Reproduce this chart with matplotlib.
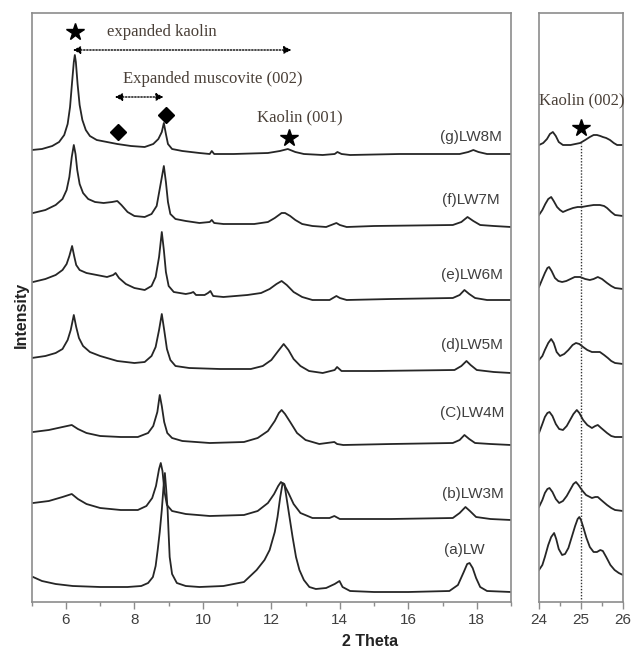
import matplotlib
matplotlib.use("Agg")
import matplotlib.pyplot as plt
from matplotlib.ticker import MultipleLocator

# ---------------- data (arbitrary intensity units incl. stacking offset) ----
sample_labels = ["(a)LW", "(b)LW3M", "(C)LW4M", "(d)LW5M", "(e)LW6M", "(f)LW7M", "(g)LW8M"]

# left panel, 2-theta 5..19
a_x = [5.04, 5.3, 5.7, 6.2, 7.0, 7.8, 8.2, 8.4, 8.54, 8.62, 8.68, 8.74, 8.80, 8.85, 8.89, 8.93, 8.97, 9.0,
       9.03, 9.1, 9.24, 9.5, 9.9, 10.6, 11.2, 11.57, 11.8, 11.95, 12.1, 12.18, 12.26, 12.33, 12.38, 12.44,
       12.53, 12.62, 12.72, 12.82, 12.95, 13.11, 13.3, 13.6, 13.85, 13.99, 14.08, 14.3, 15.0, 16.0, 17.2,
       17.45, 17.62, 17.72, 17.79, 17.88, 17.98, 18.1, 18.3, 19.0]
a_y = [25, 21, 18, 16, 15, 15, 16, 19, 25, 36, 52, 70, 92, 115, 129, 112, 92, 68,
       45, 28, 19, 16, 15, 16, 20, 32, 42, 52, 70, 85, 105, 119, 118, 105,
       85, 65, 45, 32, 22, 15, 13, 14, 18, 21, 15, 11, 10, 10, 11,
       17, 30, 38, 39, 34, 24, 15, 11, 10]

b_x = [5.04, 5.5, 5.9, 6.17, 6.35, 6.6, 7.0, 7.6, 8.1, 8.35, 8.52, 8.63, 8.72, 8.77, 8.82, 8.88, 8.95,
       9.1, 9.5, 10.2, 11.2, 11.6, 11.9, 12.08, 12.2, 12.28, 12.38, 12.5, 12.65, 12.85, 13.2, 13.7,
       13.84, 14.0, 15.5, 17.3, 17.5, 17.67, 17.8, 17.98, 18.4, 19.0]
b_y = [99, 101, 105, 108, 103, 98, 94, 92, 92, 96, 104, 116, 133, 139, 131, 110, 97,
       91, 88, 86, 87, 91, 99, 108, 116, 120, 117, 109, 98, 89, 84, 84,
       86, 83, 83, 84, 89, 95, 91, 85, 83, 82]

c_x = [5.04, 5.5, 5.9, 6.17, 6.35, 6.6, 7.0, 7.6, 8.1, 8.4, 8.55, 8.67, 8.74, 8.80, 8.87, 8.96, 9.1,
       9.4, 10.2, 11.2, 11.6, 11.9, 12.1, 12.22, 12.30, 12.4, 12.55, 12.75, 13.0, 13.4, 13.84, 13.92,
       14.1, 15.5, 17.3, 17.5, 17.64, 17.78, 17.95, 18.4, 19.0]
c_y = [170, 172, 175, 177, 173, 169, 166, 165, 165, 169, 176, 190, 207, 196, 180, 169, 164,
       161, 159, 160, 164, 171, 181, 189, 192, 188, 180, 169, 162, 158, 160, 158,
       157, 158, 159, 162, 167, 163, 159, 158, 157]

d_x = [5.0, 5.4, 5.7, 5.9, 6.05, 6.14, 6.23, 6.3, 6.38, 6.5, 6.7, 7.0, 7.5, 8.0, 8.3, 8.5, 8.62, 8.72,
       8.80, 8.87, 8.95, 9.05, 9.2, 9.6, 10.5, 11.4, 11.75, 12.0, 12.2, 12.36, 12.5, 12.65, 12.85, 13.1,
       13.5, 13.85, 13.92, 14.05, 15.0, 17.35, 17.55, 17.7, 17.82, 18.0, 18.5, 19.0]
d_y = [244, 246, 249, 253, 262, 272, 287, 275, 264, 256, 250, 246, 241, 239, 240, 246, 255, 272,
       288, 272, 253, 242, 236, 234, 233, 233, 236, 242, 251, 258, 252, 243, 236, 231,
       229, 232, 235, 231, 231, 232, 236, 241, 237, 232, 230, 229]

e_x = [5.04, 5.4, 5.7, 5.9, 6.02, 6.1, 6.18, 6.24, 6.3, 6.4, 6.6, 6.9, 7.2, 7.38, 7.45, 7.55, 7.75,
       8.0, 8.3, 8.5, 8.62, 8.72, 8.80, 8.86, 8.92, 9.0, 9.15, 9.5, 9.65, 9.72, 9.8, 10.05, 10.15, 10.22,
       10.3, 10.6, 11.3, 11.7, 11.95, 12.15, 12.3, 12.45, 12.65, 12.9, 13.2, 13.7, 13.9, 14.0, 14.2,
       15.5, 17.3, 17.5, 17.64, 17.78, 17.95, 18.3, 19.0]
e_y = [320, 323, 327, 332, 338, 346, 356, 346, 337, 332, 329, 327, 325, 327, 329, 324, 318,
       314, 312, 316, 325, 345, 370, 352, 330, 316, 310, 308, 309, 310, 307, 307, 309, 311,
       306, 305, 307, 309, 313, 318, 321, 317, 310, 305, 302, 302, 306, 304, 302,
       303, 304, 307, 312, 308, 304, 302, 302]

f_x = [5.04, 5.4, 5.7, 5.9, 6.02, 6.10, 6.17, 6.23, 6.28, 6.33, 6.40, 6.50, 6.65, 6.85, 7.1, 7.35, 7.5,
       7.62, 7.8, 8.0, 8.3, 8.5, 8.65, 8.75, 8.86, 8.92, 8.98, 9.05, 9.2, 9.5, 9.9, 10.2, 10.26, 10.33,
       10.6, 11.5, 11.9, 12.1, 12.3, 12.4, 12.55, 12.7, 12.9, 13.2, 13.6, 13.9, 14.0, 14.2, 15.0, 17.3,
       17.55, 17.73, 17.9, 18.1, 18.5, 19.0]
f_y = [389, 392, 397, 403, 412, 425, 445, 457, 448, 432, 418, 409, 403, 400, 399, 400, 401,
       397, 390, 386, 385, 388, 396, 415, 436, 420, 400, 388, 383, 381, 379, 380, 382, 379,
       378, 378, 380, 384, 389, 389, 386, 382, 378, 376, 375, 379, 377, 375, 376, 377,
       380, 385, 381, 377, 376, 375]

g_x = [5.0, 5.3, 5.6, 5.8, 5.95, 6.05, 6.12, 6.18, 6.23, 6.26, 6.29, 6.34, 6.40, 6.48, 6.58, 6.70,
       6.90, 7.2, 7.5, 7.9, 8.3, 8.55, 8.7, 8.8, 8.86, 8.92, 8.98, 9.1, 9.4, 9.9, 10.2, 10.26, 10.33,
       10.9, 11.9, 12.25, 12.48, 12.7, 12.95, 13.5, 13.85, 13.93, 14.05, 14.3, 15.74, 17.5, 17.75,
       17.9, 18.05, 18.3, 19.0]
g_y = [452, 453, 456, 460, 467, 478, 495, 520, 540, 547, 540, 518, 497, 482, 472, 466,
       462, 460, 458, 456, 455, 458, 463, 470, 479, 468, 458, 453, 451, 449, 448, 451, 448,
       448, 449, 451, 453, 450, 448, 447, 448, 450, 448, 447, 448, 448, 450,
       452, 450, 448, 448]

# right panel, 2-theta 24..26
ra_x = [24.0, 24.08, 24.14, 24.22, 24.29, 24.36, 24.41, 24.47, 24.55, 24.62, 24.70, 24.78, 24.86, 24.92,
        24.96, 25.0, 25.06, 25.13, 25.21, 25.30, 25.38, 25.46, 25.52, 25.60, 25.70, 25.80, 25.90, 26.0]
ra_y = [32, 37, 45, 57, 65, 69, 63, 53, 47, 48, 54, 65, 76, 83,
        85, 82, 74, 64, 55, 50, 50, 52, 51, 45, 37, 32, 29, 27]
rb_x = [24.0, 24.08, 24.14, 24.20, 24.25, 24.32, 24.40, 24.48, 24.57, 24.66, 24.74, 24.82, 24.88, 24.94,
        25.02, 25.12, 25.26, 25.34, 25.40, 25.48, 25.62, 25.72, 25.81, 26.0]
rb_y = [95, 102, 109, 113, 114, 110, 103, 99, 101, 106, 112, 118, 120, 117,
        112, 107, 104, 105, 105, 102, 97, 94, 92, 91]
rc_x = [24.0, 24.08, 24.14, 24.20, 24.25, 24.32, 24.40, 24.48, 24.57, 24.66, 24.74, 24.82, 24.90, 24.96,
        25.05, 25.15, 25.26, 25.34, 25.40, 25.48, 25.62, 25.72, 25.81, 26.0]
rc_y = [169, 178, 185, 189, 190, 186, 178, 173, 172, 176, 182, 188, 192, 189,
        182, 177, 174, 176, 177, 174, 169, 166, 165, 165]
rd_x = [24.0, 24.08, 24.14, 24.22, 24.29, 24.35, 24.42, 24.50, 24.60, 24.70, 24.80, 24.88, 24.96, 25.05,
        25.15, 25.26, 25.36, 25.45, 25.55, 25.64, 25.72, 25.81, 26.0]
rd_y = [242, 246, 252, 259, 263, 259, 250, 246, 248, 252, 257, 259, 258, 255,
        252, 250, 250, 250, 247, 244, 241, 239, 238]
re_x = [24.0, 24.07, 24.14, 24.20, 24.24, 24.30, 24.38, 24.46, 24.55, 24.65, 24.75, 24.85, 24.98, 25.10,
        25.21, 25.30, 25.40, 25.50, 25.62, 25.72, 25.81, 26.0]
re_y = [315, 322, 329, 334, 335, 331, 324, 321, 320, 321, 323, 325, 325, 323,
        322, 323, 325, 323, 319, 316, 314, 313]
rf_x = [24.0, 24.08, 24.15, 24.22, 24.29, 24.35, 24.43, 24.50, 24.57, 24.68, 24.81, 24.92, 25.02, 25.15,
        25.30, 25.45, 25.55, 25.62, 25.72, 25.81, 26.0]
rf_y = [387, 392, 398, 403, 405, 401, 395, 392, 390, 392, 394, 395, 395, 396,
        397, 397, 396, 394, 390, 387, 386]
rg_x = [24.0, 24.10, 24.19, 24.26, 24.33, 24.40, 24.47, 24.57, 24.75, 24.98, 25.10, 25.21, 25.30, 25.38,
        25.46, 25.52, 25.60, 25.69, 25.78, 25.86, 26.0]
rg_y = [457, 459, 463, 468, 470, 466, 460, 457, 457, 459, 462, 465, 467, 467,
        466, 465, 464, 462, 459, 457, 457]

left_traces = [(a_x, a_y), (b_x, b_y), (c_x, c_y), (d_x, d_y), (e_x, e_y), (f_x, f_y), (g_x, g_y)]
right_traces = [(ra_x, ra_y), (rb_x, rb_y), (rc_x, rc_y), (rd_x, rd_y), (re_x, re_y), (rf_x, rf_y), (rg_x, rg_y)]
label_pos = [(465, 52), (474, 108), (473, 189), (473, 257), (473, 327), (472, 402), (472, 465)]  # pixel x, intensity

# ---------------- figure ----------------
W, H = 634, 648
fig = plt.figure(figsize=(W / 100, H / 100), dpi=100)
ax = fig.add_axes([31.7 / W, (H - 602) / H, (511 - 31.7) / W, 589 / H])
ax2 = fig.add_axes([539 / W, (H - 602) / H, 84 / W, 589 / H])

LC = "#262626"
SC = "#8c8c8c"
TXT = "#3f3f3f"
ANN = "#4a4038"

for (xs, ys) in left_traces:
    ax.plot(xs, ys, color=LC, lw=1.3, solid_joinstyle="round")
for (xs, ys) in right_traces:
    ax2.plot(xs, ys, color=LC, lw=1.3, solid_joinstyle="round")

ax.set_xlim(5, 19)
ax.set_ylim(0, 589)
ax2.set_xlim(24, 26)
ax2.set_ylim(0, 589)

ax.xaxis.set_major_locator(MultipleLocator(2))
ax.xaxis.set_minor_locator(MultipleLocator(1))
ax2.xaxis.set_major_locator(MultipleLocator(1))
ax2.xaxis.set_minor_locator(MultipleLocator(0.5))
ax.set_xticks(range(6, 19, 2))
ax2.set_xticks([24, 25, 26])

for a in (ax, ax2):
    a.set_yticks([])
    for s in a.spines.values():
        s.set_color(SC)
        s.set_linewidth(1.2)
    a.tick_params(axis="x", which="major", direction="out", length=5, width=1, color=SC,
                  labelsize=11, labelcolor=TXT, pad=3)
    a.tick_params(axis="x", which="minor", direction="out", length=3, width=1, color=SC)
    for t in a.get_xticklabels():
        t.set_fontfamily("Liberation Sans")

def px2x(px):
    return 5 + (px - 31.7) / 34.3

# sample labels
for lab, (px, yy) in zip(sample_labels, label_pos):
    ax.text(px2x(px), yy, lab, ha="center", va="center", fontsize=11,
            family="Liberation Sans", color=TXT)

# annotations, left panel
serif = dict(family="Liberation Serif", color=ANN, fontsize=12)
ax.text(px2x(162), 602 - 32, "expanded kaolin", ha="center", va="center", **serif)
ax.text(px2x(213), 602 - 79, "Expanded muscovite (002)", ha="center", va="center", **serif)
ax.text(px2x(300), 602 - 117, "Kaolin (001)", ha="center", va="center", **serif)

ax.plot([6.26], [602 - 32], marker="*", ms=13, color="black", ls="none")
ax.plot([12.53], [602 - 138], marker="*", ms=13, color="black", ls="none")
ax.plot([7.52, 8.92], [602 - 132, 602 - 115], marker="D", ms=8, color="black", ls="none")

arrow_kw = dict(arrowstyle="<|-|>", color="black", lw=1.0, linestyle=(0, (1, 1.2)),
                mutation_scale=11, shrinkA=0, shrinkB=0)
ax.annotate("", xy=(px2x(292), 602 - 50), xytext=(px2x(73), 602 - 50), arrowprops=arrow_kw)
ax.annotate("", xy=(px2x(164), 602 - 97), xytext=(px2x(115), 602 - 97), arrowprops=arrow_kw)

# right panel annotation
ax2.text(25.02, 602 - 100, "Kaolin (002)", ha="center", va="center", **serif)
ax2.plot([25.0], [602 - 128], marker="*", ms=13, color="black", ls="none")
ax2.vlines(25.0, 0, 602 - 143, colors="#333333", linestyles=(0, (1, 1.2)), lw=1.0)

# axis titles
fig.text(21 / W, (H - 315) / H, "Intensity", rotation=90, ha="center", va="center",
         fontsize=11.5, fontweight="bold", family="Liberation Sans", color="#222222")
fig.text(370 / W, (H - 642) / H, "2 Theta", ha="center", va="center",
         fontsize=11.5, fontweight="bold", family="Liberation Sans", color="#222222")

fig.savefig("out.png", dpi=100)
